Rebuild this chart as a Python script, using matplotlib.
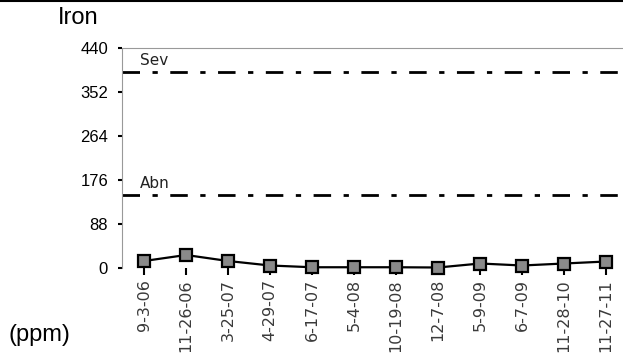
import matplotlib
matplotlib.use("Agg")
import matplotlib.pyplot as plt
from matplotlib.lines import Line2D

dates = ["9-3-06", "11-26-06", "3-25-07", "4-29-07", "6-17-07", "5-4-08",
         "10-19-08", "12-7-08", "5-9-09", "6-7-09", "11-28-10", "11-27-11"]
iron = [14, 26, 14, 5, 1.5, 1.5, 1.5, 1, 9, 5, 9, 13]
sev_level = 392
abn_level = 146
yticks = [0, 88, 176, 264, 352, 440]

plt.rcParams['font.family'] = ['Liberation Sans', 'DejaVu Sans']

fig = plt.figure(figsize=(6.23, 3.58), dpi=100)
W, H = 623, 358
left, right, top, bottom = 122, 623, 48, 268
ax = fig.add_axes([left / W, (H - bottom) / H, (right - left) / W, (bottom - top) / H])

x = list(range(len(dates)))
ax.plot(x, iron, color='black', lw=1.6, marker='s', markersize=8,
        markerfacecolor='#8a8a8a', markeredgecolor='black', markeredgewidth=1.6, zorder=5, clip_on=False)

for lvl, name in [(sev_level, "Sev"), (abn_level, "Abn")]:
    ax.axhline(lvl, color='black', lw=2.0, dashes=(6.3, 4.5, 1.9, 4.5), dash_capstyle='butt')
    ax.text(-0.524 + 18 / 42, lvl + 8, name, fontsize=11, color='#222222', va='bottom', ha='left',
            family=['DejaVu Sans'])

ax.set_ylim(0, 440)
ax.set_xlim(-0.524, 11.4)
ax.set_yticks(yticks)
ax.set_yticklabels([str(v) for v in yticks], fontsize=12, color='black')
ax.set_xticks(x)
ax.set_xticklabels(dates, rotation=90, fontsize=11.5, color='#3a3a3a', va='top', family=['DejaVu Sans'])
ax.tick_params(axis='y', length=3, width=1.5, pad=7, color='black')
ax.tick_params(axis='x', length=5, width=1.5, pad=3, color='black')

for s in ['right', 'bottom']:
    ax.spines[s].set_visible(False)
ax.spines['left'].set_color('#999999')
ax.spines['left'].set_linestyle((0, (1, 1)))
ax.spines['top'].set_color('#999999')
ax.spines['top'].set_linestyle((0, (1, 1)))

fig.text(58 / W, 1 - 18 / H, "Iron", fontsize=17, va='center', ha='left')
fig.text(8 / W, 1 - 335 / H, "(ppm)", fontsize=17, va='center', ha='left')
fig.add_artist(Line2D([0, 1], [1 - 0.5 / H, 1 - 0.5 / H], color='black', lw=1.5, transform=fig.transFigure))

fig.savefig("out.png", dpi=100)
